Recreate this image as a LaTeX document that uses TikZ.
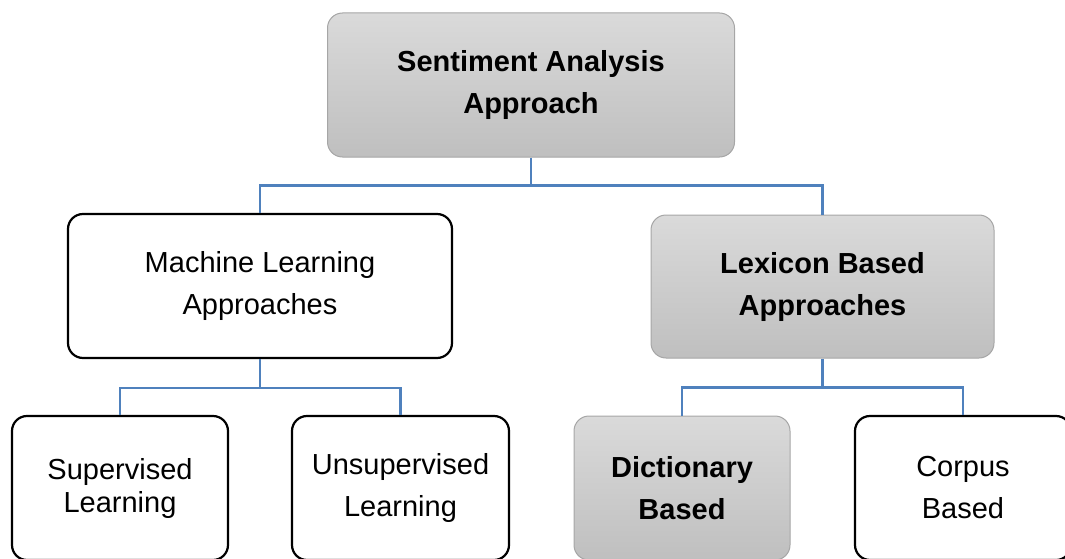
\documentclass[tikz,border=0pt]{standalone}
\usepackage{fontspec}
\setmainfont{Liberation Sans}
\usetikzlibrary{positioning}
\definecolor{connblue}{HTML}{4F81BD}
\definecolor{grayedge}{HTML}{A6A6A6}
\definecolor{graytop}{HTML}{DADADA}
\definecolor{graybot}{HTML}{BFBFBF}
\begin{document}
\begin{tikzpicture}[x=1pt,y=-1pt,
  box/.style={rounded corners=15pt, inner sep=0pt, align=center,
    font=\fontsize{29}{42}\selectfont},
  graybox/.style={box, draw=grayedge, line width=1pt,
    top color=graytop, bottom color=graybot},
  whitebox/.style={box, draw=black, line width=2.2pt, fill=white},
  conn/.style={draw=connblue, line width=2.6pt}]
\useasboundingbox (0,0) rectangle (1065,559);

% root
\node[graybox, minimum width=407pt, minimum height=144pt] (root) at (531,85)
  {\bfseries Sentiment Analysis\\\bfseries Approach};

% second level
\node[whitebox, minimum width=384pt, minimum height=144pt] (ml) at (260,286)
  {Machine Learning\\Approaches};
\node[graybox, minimum width=343pt, minimum height=143pt] (lex) at (822.5,286.5)
  {\bfseries Lexicon Based\\\bfseries Approaches};

% leaves
\node[whitebox, minimum width=216pt, minimum height=144pt,
  font=\fontsize{29}{33}\selectfont] (sup) at (120,488)
  {Supervised\\Learning};
\node[whitebox, minimum width=217pt, minimum height=144pt] (unsup) at (400.5,488)
  {Unsupervised\\Learning};
\node[graybox, minimum width=216pt, minimum height=144pt] (dict) at (682,488)
  {\bfseries Dictionary\\\bfseries Based};
\node[whitebox, minimum width=216pt, minimum height=144pt] (corp) at (963,488)
  {Corpus\\Based};

% connectors
\draw[conn] (root.south) -- ++(0,28) coordinate (j1) -| (ml.north);
\draw[conn] (j1) -| (lex.north);
\draw[conn] (ml.south) -- ++(0,29) coordinate (j2) -| (sup.north);
\draw[conn] (j2) -| (unsup.north);
\draw[conn] (lex.south) -- ++(0,29) coordinate (j3) -| (dict.north);
\draw[conn] (j3) -| (corp.north);
\end{tikzpicture}
\end{document}
